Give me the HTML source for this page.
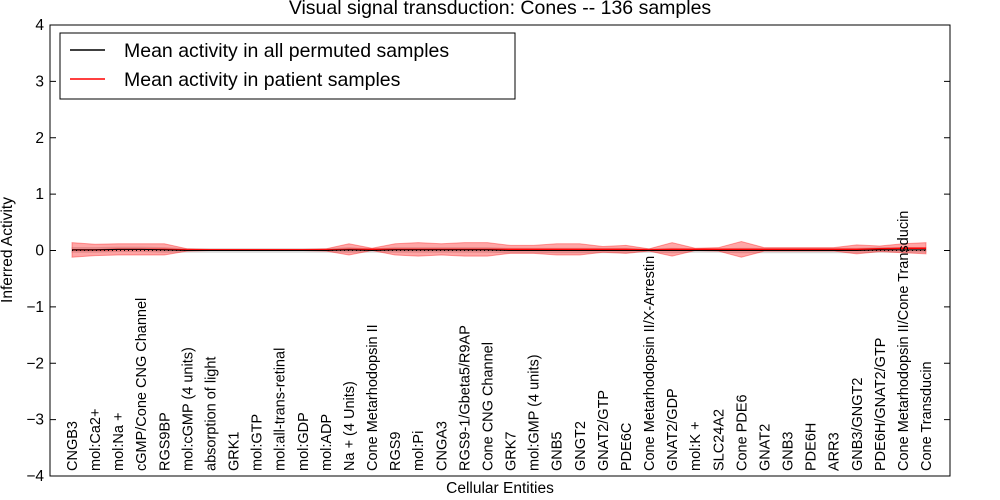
<!DOCTYPE html>
<html><head><meta charset="utf-8"><style>body{margin:0;background:#fff}svg{display:block;font-family:"Liberation Sans","DejaVu Sans",sans-serif}</style></head>
<body>
<svg id="chart" width="1000" height="500" xmlns="http://www.w3.org/2000/svg">
<text x="500" y="14" text-anchor="middle" font-size="19.5">Visual signal transduction: Cones -- 136 samples</text>
<text transform="translate(12,250) rotate(-90)" text-anchor="middle" font-size="15.5">Inferred Activity</text>
<text x="500" y="493" text-anchor="middle" font-size="15.5">Cellular Entities</text>
<g id="plot"></g>
<rect x="50" y="25" width="900" height="451" fill="none" stroke="#000" stroke-width="1"/>
<g>
<rect x="60" y="33" width="455" height="66" fill="#fff" stroke="#000"/>
<line x1="70" y1="50" x2="105" y2="50" stroke="#000" stroke-width="1.5"/>
<text x="124" y="57" font-size="19.5">Mean activity in all permuted samples</text>
<line x1="70" y1="79" x2="105" y2="79" stroke="red" stroke-width="1.5"/>
<text x="124" y="86" font-size="19.5">Mean activity in patient samples</text>
</g>
</svg>
<script>
const categories=["CNGB3","mol:Ca2+","mol:Na +","cGMP/Cone CNG Channel","RGS9BP","mol:cGMP (4 units)","absorption of light","GRK1","mol:GTP","mol:all-trans-retinal","mol:GDP","mol:ADP","Na + (4 Units)","Cone Metarhodopsin II","RGS9","mol:Pi","CNGA3","RGS9-1/Gbeta5/R9AP","Cone CNG Channel","GRK7","mol:GMP (4 units)","GNB5","GNGT2","GNAT2/GTP","PDE6C","Cone Metarhodopsin II/X-Arrestin","GNAT2/GDP","mol:K +","SLC24A2","Cone PDE6","GNAT2","GNB3","PDE6H","ARR3","GNB3/GNGT2","PDE6H/GNAT2/GTP","Cone Metarhodopsin II/Cone Transducin","Cone Transducin"];
const patientMean=[0.01,0.01,0.02,0.02,0.02,0.01,0.01,0.01,0.01,0.01,0.01,0.01,0.02,0.02,0.02,0.02,0.02,0.02,0.02,0.02,0.02,0.02,0.02,0.02,0.02,0.01,0.02,0.02,0.02,0.02,0.02,0.02,0.02,0.02,0.02,0.03,0.04,0.04];
const patientSpread=[0.13,0.1,0.1,0.1,0.1,0.02,0.01,0.01,0.01,0.01,0.01,0.02,0.1,0.02,0.1,0.12,0.1,0.12,0.12,0.07,0.07,0.1,0.1,0.05,0.07,0.02,0.12,0.02,0.03,0.14,0.03,0.03,0.03,0.03,0.08,0.05,0.08,0.1];
const permutedMean=[0.01,0.01,0.02,0.02,0.01,0,0,0,0,0,0,0,0.01,0,0.01,0.01,0.01,0.01,0.01,0,0,0,0,0,0,0,0,0,0,0,0,0,0,0,0,0.01,0.01,0.01];
const permutedSpread=[0.04,0.04,0.04,0.04,0.04,0.03,0.03,0.03,0.03,0.03,0.03,0.03,0.04,0.03,0.04,0.04,0.04,0.04,0.04,0.04,0.04,0.04,0.04,0.04,0.04,0.03,0.04,0.03,0.03,0.04,0.04,0.04,0.04,0.04,0.04,0.04,0.04,0.04];
const yTicks=[-4,-3,-2,-1,0,1,2,3,4];
const NS="http://www.w3.org/2000/svg",g=document.getElementById('plot');
const X=i=>72+i*(926-72)/(categories.length-1);
const Y=v=>250.5-v*56.375;
function mk(t,a){const e=document.createElementNS(NS,t);for(const k in a)e.setAttribute(k,a[k]);g.appendChild(e);return e;}
function band(m,s,fill,op,name){let up=m.map((v,i)=>X(i)+','+Y(v+s[i])),dn=m.map((v,i)=>X(i)+','+Y(v-s[i])).reverse();
const p=mk('polygon',{points:up.concat(dn).join(' '),fill:fill,'fill-opacity':op,stroke:fill,'stroke-opacity':op});

}
function line(m,c,name,w){const p=mk('polyline',{points:m.map((v,i)=>X(i)+','+Y(v)).join(' '),fill:'none',stroke:c,'stroke-width':w});

}
band(permutedMean,permutedSpread,'#bbb',0.5,'permuted-band');
band(patientMean,patientSpread,'#f00',0.35,'patient-band');
line(patientMean,'red','patient-mean-line',1.5);
line(permutedMean,'#000','permuted-mean-line',1);
const z=mk('line',{x1:X(0),x2:X(categories.length-1),y1:Y(0),y2:Y(0),stroke:'#000','stroke-dasharray':'1,3'});


yTicks.forEach(v=>{
const t=mk('line',{x1:50,x2:56,y1:Y(v),y2:Y(v),stroke:'#000'});


const t2=mk('line',{x1:944,x2:950,y1:Y(v),y2:Y(v),stroke:'#000'});


const l=mk('text',{x:44,y:Y(v)+5,'text-anchor':'end','font-size':15.5});
l.textContent=(v<0?'\u2212'+(-v):v);

});
categories.forEach((c,i)=>{
const l=mk('text',{transform:`translate(${X(i)+5},471) rotate(-90)`,'font-size':14.5});
l.textContent=c;

});
</script>
</body></html>
